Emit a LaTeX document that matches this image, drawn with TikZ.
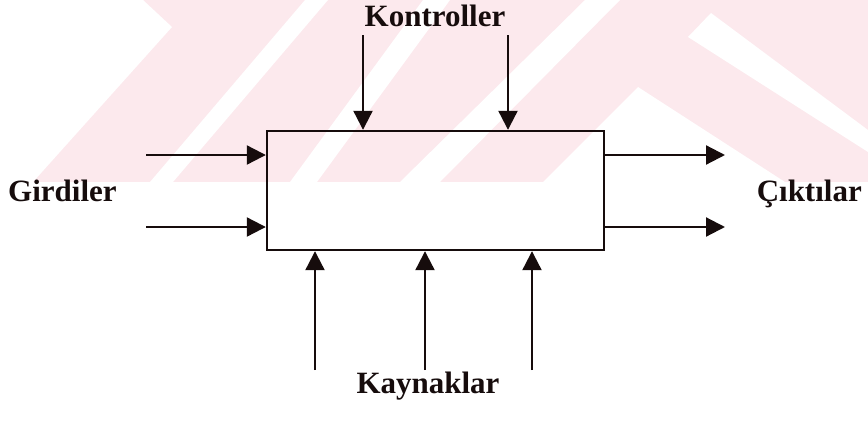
\documentclass[tikz,border=0pt]{standalone}
\usepackage{fontspec}
\setmainfont{Liberation Serif}
\usepackage{tikz}
\usetikzlibrary{arrows.meta, positioning}
\definecolor{wmark}{RGB}{252,233,237}
\definecolor{ink}{RGB}{22,12,12}
\tikzset{
  procbox/.style={draw=ink, line width=2.4pt,
                  minimum width=337pt, minimum height=119pt, inner sep=0pt},
  flow/.style={-{Triangle[length=19pt,width=19pt]}, draw=ink, line width=2.2pt},
  tag/.style={font=\fontsize{31}{34}\selectfont\bfseries, text=ink, inner sep=0pt}
}

\begin{document}
\begin{tikzpicture}[x=1pt, y=-1pt]
\useasboundingbox (0,0) rectangle (868,426);
% faint stamp behind the upper part
\fill[wmark] (0,0) rectangle (868,182);
\fill[white] (0,0) -- (143,0) -- (172,27) -- (33,182) -- (0,182) -- cycle;
\fill[white] (150,182) -- (173,182) -- (328,0) -- (305,0) -- cycle;
\fill[white] (290,182) -- (317,182) -- (450,0) -- (423,0) -- cycle;
\fill[white] (400,182) -- (440,182) -- (620,0) -- (585,0) -- cycle;
\fill[white] (543,182) -- (638,87) -- (785,182) -- cycle;
\fill[white] (688,37) -- (711,13) -- (868,130) -- (868,152) -- cycle;

\node[procbox] (proc) at (435.5,190.5) {};

\coordinate (in1) at (146,155);
\coordinate (in2) at (146,227);
\coordinate (out1) at (725,155);
\coordinate (out2) at (725,227);
\coordinate (k1) at (363,35);
\coordinate (k2) at (508,35);
\coordinate (r1) at (315,370);
\coordinate (r2) at (425,370);
\coordinate (r3) at (532,370);

\foreach \p in {in1,in2}
    \draw[flow] (\p) -- (\p -| proc.west);
\foreach \p in {out1,out2}
    \draw[flow] (proc.east |- \p) -- (\p);
\foreach \p in {k1,k2}
    \draw[flow] (\p) -- (\p |- proc.north);
\foreach \p in {r1,r2,r3}
    \draw[flow] (\p) -- (\p |- proc.south);

\node[tag, anchor=base] (ctrl) at (435,26) {Kontroller};
\node[tag, anchor=base west] (inp) at (8,201) {Girdiler};
\node[tag, anchor=base east] (outp) at (862,201) {Çıktılar};
\node[tag, anchor=base] (res) at (428,393) {Kaynaklar};
\end{tikzpicture}
\end{document}
